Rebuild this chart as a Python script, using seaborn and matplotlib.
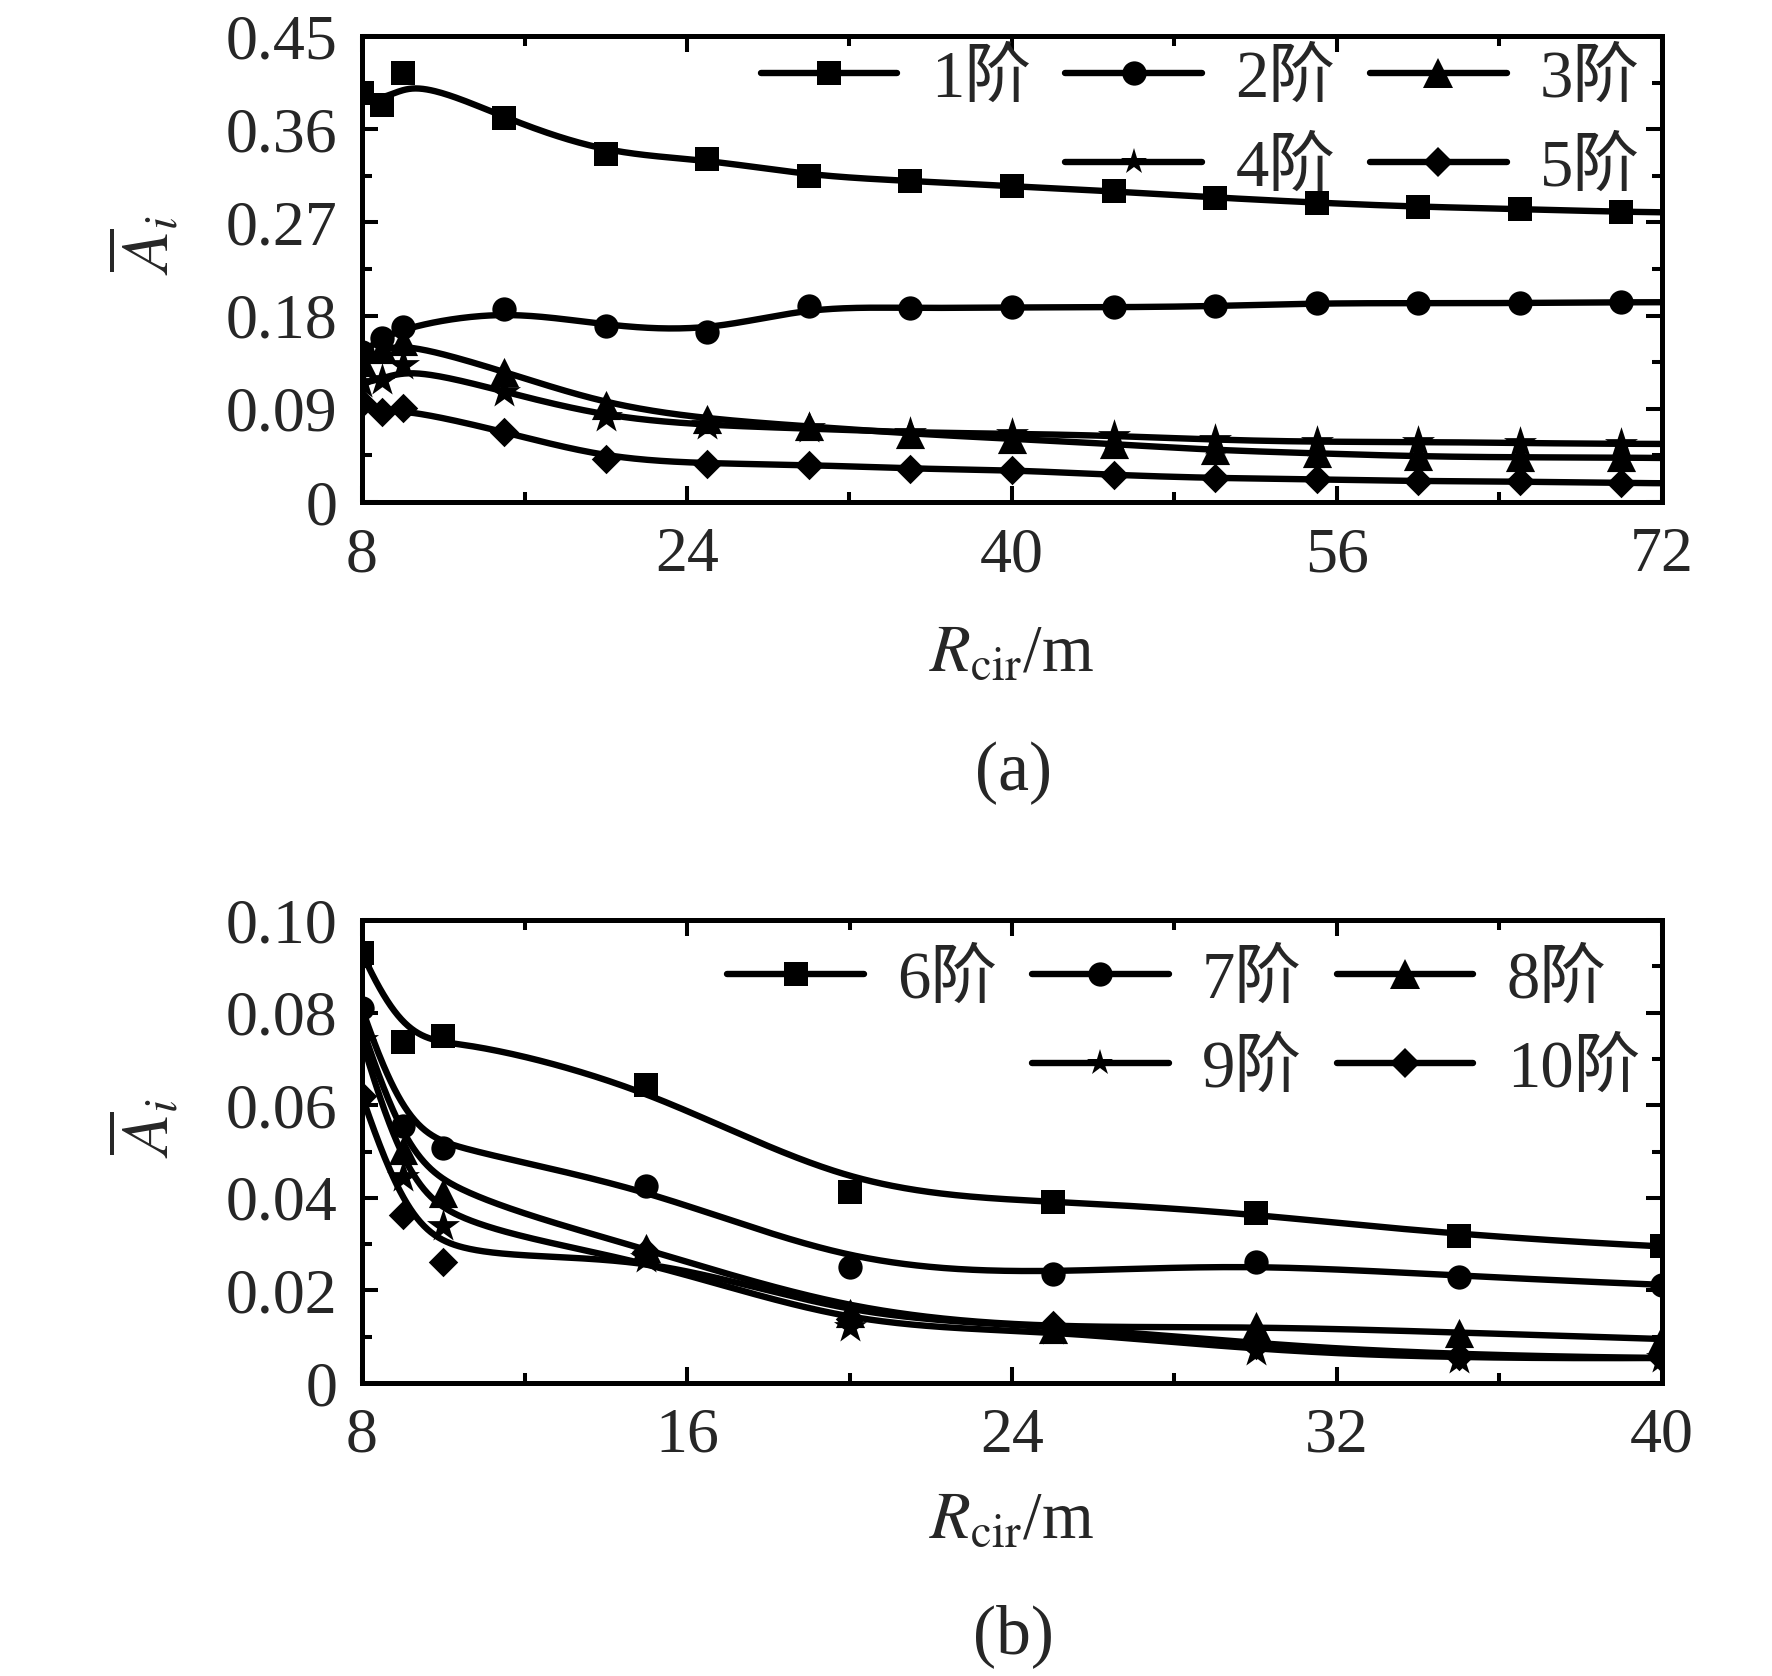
import numpy as np
import matplotlib
matplotlib.use('Agg')
import matplotlib.pyplot as plt
from matplotlib.lines import Line2D
from matplotlib.ticker import FixedLocator, FuncFormatter
import seaborn as sns

# panel (a): modes 1-5
x_a = [8, 9, 10, 15, 20, 25, 30, 35, 40, 45, 50, 55, 60, 65, 70, 75]
mode1 = [0.395, 0.383, 0.4146, 0.3705, 0.336, 0.331, 0.315, 0.310, 0.305, 0.300, 0.294, 0.289, 0.285, 0.283, 0.280, 0.279]
mode2 = [0.145, 0.158, 0.169, 0.186, 0.170, 0.164, 0.189, 0.187, 0.188, 0.188, 0.189, 0.192, 0.192, 0.192, 0.193, 0.193]
mode3 = [0.135, 0.148, 0.155, 0.126, 0.094, 0.080, 0.073, 0.066, 0.061, 0.056, 0.050, 0.047, 0.044, 0.043, 0.043, 0.042]
mode4 = [0.115, 0.118, 0.132, 0.1065, 0.082, 0.074, 0.071, 0.067, 0.066, 0.064, 0.060, 0.058, 0.058, 0.057, 0.056, 0.056]
mode5 = [0.096, 0.0872, 0.0904, 0.0679, 0.042, 0.037, 0.036, 0.032, 0.031, 0.026, 0.023, 0.022, 0.020, 0.020, 0.018, 0.018]

# panel (b): modes 6-10
x_b = [8, 9, 10, 15, 20, 25, 30, 35, 40]
mode6 = [0.0929, 0.0737, 0.0750, 0.0644, 0.0413, 0.0392, 0.0368, 0.0317, 0.0295]
mode7 = [0.0809, 0.0554, 0.0508, 0.0425, 0.0251, 0.0235, 0.0262, 0.0230, 0.0212]
mode8 = [0.077, 0.0503, 0.0410, 0.0291, 0.0152, 0.0117, 0.0124, 0.0109, 0.0095]
mode9 = [0.074, 0.0446, 0.0339, 0.0269, 0.0120, 0.0115, 0.0069, 0.0052, 0.0054]
mode10 = [0.062, 0.0363, 0.0262, 0.0284, 0.0139, 0.0125, 0.0083, 0.0059, 0.0054]

labels_a = ['1阶', '2阶', '3阶', '4阶', '5阶']
labels_b = ['6阶', '7阶', '8阶', '9阶', '10阶']
markers = ['s', 'o', '^', '*', 'D']
msizes = [17.5, 17.5, 21, 25, 15]      # data markers
leg_msizes = [17.5, 17.5, 21, 20, 15]  # legend markers

sns.set_theme(style='ticks')
plt.rcParams['font.family'] = ['Liberation Serif', 'Noto Sans CJK SC']
plt.rcParams['mathtext.fontset'] = 'stix'
plt.rcParams['axes.linewidth'] = 3.6
plt.rcParams['axes.edgecolor'] = 'black'

LW = 4.6


def bspline(xs, ys, num=500, k=3):
    """Clamped cubic B-spline using the data points as control points."""
    xs = np.asarray(xs, float)
    ys = np.asarray(ys, float)
    n = len(xs)
    t = np.concatenate([np.zeros(k), np.linspace(0, 1, n - k + 1), np.ones(k)])
    u = np.linspace(0, 1, num)
    m = len(t) - 1
    B = np.zeros((num, m))
    for i in range(m):
        if t[i] < t[i + 1]:
            B[:, i] = (u >= t[i]) & (u < t[i + 1])
    B[-1, n - 1] = 1.0
    for d in range(1, k + 1):
        Bn = np.zeros((num, m - d))
        for i in range(m - d):
            if t[i + d] > t[i]:
                Bn[:, i] += (u - t[i]) / (t[i + d] - t[i]) * B[:, i]
            if t[i + d + 1] > t[i + 1]:
                Bn[:, i] += (t[i + d + 1] - u) / (t[i + d + 1] - t[i + 1]) * B[:, i + 1]
        B = Bn
    return B @ xs, B @ ys


def fmt_y(v, pos):
    return '0' if abs(v) < 1e-9 else f'{v:.2f}'


def draw_panel(ax, x, series, labels, xlim, xmajor, ylim, ymajor, leg_anchor):
    handles = []
    for y, lab, mk, ms, lms in zip(series, labels, markers, msizes, leg_msizes):
        sx, sy = bspline(x, y)
        sns.lineplot(x=sx, y=sy, sort=False, estimator=None, color='black',
                     linewidth=LW, ax=ax, zorder=2)
        sns.scatterplot(x=x, y=y, marker=mk, s=ms ** 2, color='black',
                        edgecolor='black', linewidth=0, ax=ax, zorder=3, legend=False)
        handles.append(Line2D([], [], color='black', lw=LW, marker=mk, ms=lms,
                              mec='black', mew=0, solid_capstyle='round'))

    ax.set_xlim(*xlim)
    ax.set_ylim(*ylim)
    ax.xaxis.set_major_locator(FixedLocator(np.arange(xlim[0], xlim[1] + 1e-9, xmajor)))
    ax.xaxis.set_minor_locator(FixedLocator(np.arange(xlim[0], xlim[1] + 1e-9, xmajor / 2)))
    ax.yaxis.set_major_locator(FixedLocator(np.arange(ylim[0], ylim[1] + 1e-9, ymajor)))
    ax.yaxis.set_minor_locator(FixedLocator(np.arange(ylim[0], ylim[1] + 1e-9, ymajor / 2)))
    ax.xaxis.set_major_formatter(FuncFormatter(lambda v, p: f'{v:.0f}'))
    ax.yaxis.set_major_formatter(FuncFormatter(fmt_y))
    ax.tick_params(which='both', direction='in', top=True, right=True,
                   width=2.9, color='black')
    ax.tick_params(which='major', length=11.5, labelsize=46, pad=18)
    ax.tick_params(which='minor', length=7.5)
    for s in ax.spines.values():
        s.set_visible(True)
        s.set_linewidth(3.6)

    ax.set_ylabel(r'$\overline{A}_i$', fontsize=48)
    ax.yaxis.set_label_coords(-0.167, 0.55)
    ax.yaxis.label.set_va('center')

    blank = Line2D([], [], alpha=0)
    order_h = [handles[0], blank, handles[1], handles[3], handles[2], handles[4]]
    order_l = [labels[0], '', labels[1], labels[3], labels[2], labels[4]]
    ax.legend(order_h, order_l, ncol=3, loc='upper right', bbox_to_anchor=leg_anchor,
              frameon=False, borderpad=0, borderaxespad=0, handlelength=2.05,
              handletextpad=0.5, columnspacing=0.52, labelspacing=0.42, numpoints=1,
              prop={'family': ['Liberation Serif', 'Noto Sans CJK SC'], 'size': 48})


W, H = 1772, 1676
fig = plt.figure(figsize=(W / 100, H / 100), dpi=100)
fig.patch.set_facecolor('white')

ax_a = fig.add_axes([362 / W, 1 - 502 / H, 1300 / W, 466 / H])
ax_b = fig.add_axes([362 / W, 1 - 1383 / H, 1300 / W, 463 / H])

draw_panel(ax_a, x_a, [mode1, mode2, mode3, mode4, mode5], labels_a,
           (8, 72), 16, (0, 0.45), 0.09, (0.983, 0.972))
draw_panel(ax_b, x_b, [mode6, mode7, mode8, mode9, mode10], labels_b,
           (8, 40), 8, (0, 0.10), 0.02, (0.983, 0.935))

for ax, ly in [(ax_a, -0.328), (ax_b, -0.300)]:
    ax.set_xlabel(r'$R_{\mathrm{cir}}$/m', fontsize=48)
    ax.xaxis.set_label_coords(0.5, ly)
    ax.xaxis.label.set_va('center')

fig.text(1013 / W, 1 - 773 / H, '(a)', ha='center', va='center', fontsize=50)
fig.text(1013 / W, 1 - 1636 / H, '(b)', ha='center', va='center', fontsize=50)

fig.savefig('out.png', dpi=100, facecolor='white')
